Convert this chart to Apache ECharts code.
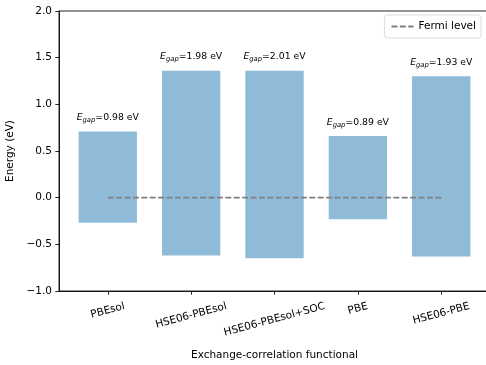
<!DOCTYPE html>
<html>
<head>
<meta charset="utf-8">
<script src="https://cdn.jsdelivr.net/npm/echarts@6/dist/echarts.min.js"></script>
<style>
  html, body { margin: 0; padding: 0; background: #fff; }
  #chart { width: 486px; height: 365px; }
</style>
</head>
<body>
<div id="chart"></div>
<script>
// Band edges (eV, relative to the Fermi level) for each functional
const functionals = ['PBEsol', 'HSE06-PBEsol', 'HSE06-PBEsol+SOC', 'PBE', 'HSE06-PBE'];
const cbm = [0.71, 1.36, 1.36, 0.66, 1.30];
const vbm = [-0.27, -0.62, -0.65, -0.23, -0.63];
const yTicks = [-1.0, -0.5, 0.0, 0.5, 1.0, 1.5, 2.0];
const fermiLevel = 0.0;

const FONT = '"DejaVu Sans", sans-serif';
const TICK_SIZE = 10.5;
const LABEL_ROT = 15;
const BAR_HALF = 0.35;

// measure category label widths for placing rotated labels below the axis
const measureCtx = document.createElement('canvas').getContext('2d');
measureCtx.font = TICK_SIZE + 'px "DejaVu Sans"';
const labelWidths = functionals.map(t => measureCtx.measureText(t).width);

const fmtTick = v => (v < 0 ? '\u2212' : '') + Math.abs(v).toFixed(1);

const chart = echarts.init(document.getElementById('chart'), null, { renderer: 'canvas' });

const barData = functionals.map((f, i) => [i, vbm[i], cbm[i]]);
const labelData = functionals.map((f, i) => [i]);

chart.setOption({
  animation: false,
  grid: {
    left: 59, top: 11, right: -4, bottom: 74,
    outerBoundsMode: 'none',
    containLabel: false,
    show: true, borderColor: '#000', borderWidth: 0.85, backgroundColor: 'transparent'
  },
  legend: {
    data: ['Fermi level'],
    right: 5, top: 15,
    padding: [6, 5, 6, 6],
    itemWidth: 22, itemHeight: 10,
    itemStyle: { opacity: 0 },
    borderColor: '#d4d4d4', borderWidth: 0.8, borderRadius: 3,
    textStyle: { fontFamily: FONT, fontSize: 10.5, color: '#000' }
  },
  xAxis: {
    type: 'value',
    min: -0.585, max: 4.585,
    name: 'Exchange-correlation functional',
    nameLocation: 'middle', nameGap: 59,
    nameTextStyle: { fontFamily: FONT, fontSize: 10.5, color: '#000' },
    axisLine: { show: true, onZero: false, lineStyle: { color: '#000', width: 0.85 } },
    axisTick: { show: true, length: 3.7, customValues: [0, 1, 2, 3, 4], lineStyle: { color: '#000', width: 0.85 } },
    axisLabel: { show: false },
    splitLine: { show: false }
  },
  yAxis: {
    type: 'value',
    min: -1, max: 2, interval: 0.5,
    name: 'Energy (eV)',
    nameLocation: 'middle', nameGap: 35,
    nameTextStyle: { fontFamily: FONT, fontSize: 10.5, color: '#000' },
    axisLine: { show: true, onZero: false, lineStyle: { color: '#000', width: 0.85 } },
    axisTick: { show: true, length: 3.7, lineStyle: { color: '#000', width: 0.85 } },
    axisLabel: {
      margin: 7, fontFamily: FONT, fontSize: TICK_SIZE, color: '#000',
      customValues: yTicks, formatter: fmtTick
    },
    splitLine: { show: false }
  },
  series: [
    {
      // floating bars from VBM to CBM, with the gap written above
      type: 'custom',
      name: 'bands',
      data: barData,
      clip: false,
      z: 2,
      renderItem: function (params, api) {
        const i = api.value(0), lo = api.value(1), hi = api.value(2);
        const p0 = api.coord([i - BAR_HALF, hi]);
        const p1 = api.coord([i + BAR_HALF, lo]);
        const top = api.coord([i, hi + 0.1]);
        const gap = (hi - lo).toFixed(2);
        return {
          type: 'group',
          children: [
            {
              type: 'rect',
              shape: { x: p0[0], y: p0[1], width: p1[0] - p0[0], height: p1[1] - p0[1] },
              style: { fill: '#8fbbd9' }
            },
            {
              type: 'text',
              x: top[0], y: top[1],
              style: {
                text: '{e|E}{s|gap}{n|=' + gap + ' eV}',
                align: 'center', verticalAlign: 'bottom',
                rich: {
                  e: { fontFamily: FONT, fontSize: 9.3, fontStyle: 'italic', fill: '#000', lineHeight: 12, verticalAlign: 'bottom' },
                  s: { fontFamily: FONT, fontSize: 6.8, fontStyle: 'italic', fill: '#000', lineHeight: 12, verticalAlign: 'bottom', padding: [0, 0, -1.5, 0] },
                  n: { fontFamily: FONT, fontSize: 9.3, fill: '#000', lineHeight: 12, verticalAlign: 'bottom' }
                }
              }
            }
          ]
        };
      }
    },
    {
      // rotated category labels under the x axis
      type: 'custom',
      name: 'categories',
      data: labelData,
      clip: false,
      silent: true,
      renderItem: function (params, api) {
        const i = api.value(0);
        const p = api.coord([i, -1]);
        const th = LABEL_ROT * Math.PI / 180;
        const w = labelWidths[i];
        const h = TICK_SIZE * 1.16;
        const bboxH = w * Math.sin(th) + h * Math.cos(th);
        return {
          type: 'text',
          x: p[0], y: p[1] + 3.7 + 5.5 + bboxH / 2,
          rotation: th,
          style: {
            text: functionals[i],
            align: 'center', verticalAlign: 'middle',
            fontFamily: FONT, fontSize: TICK_SIZE, fill: '#000'
          }
        };
      }
    },
    {
      type: 'line',
      name: 'Fermi level',
      data: [[0, fermiLevel], [4, fermiLevel]],
      symbol: 'none',
      z: 3,
      lineStyle: { color: '#7f7f7f', width: 1.6, type: [5.9, 2.5] },
      itemStyle: { color: '#7f7f7f' }
    }
  ]
});
</script>
</body>
</html>
